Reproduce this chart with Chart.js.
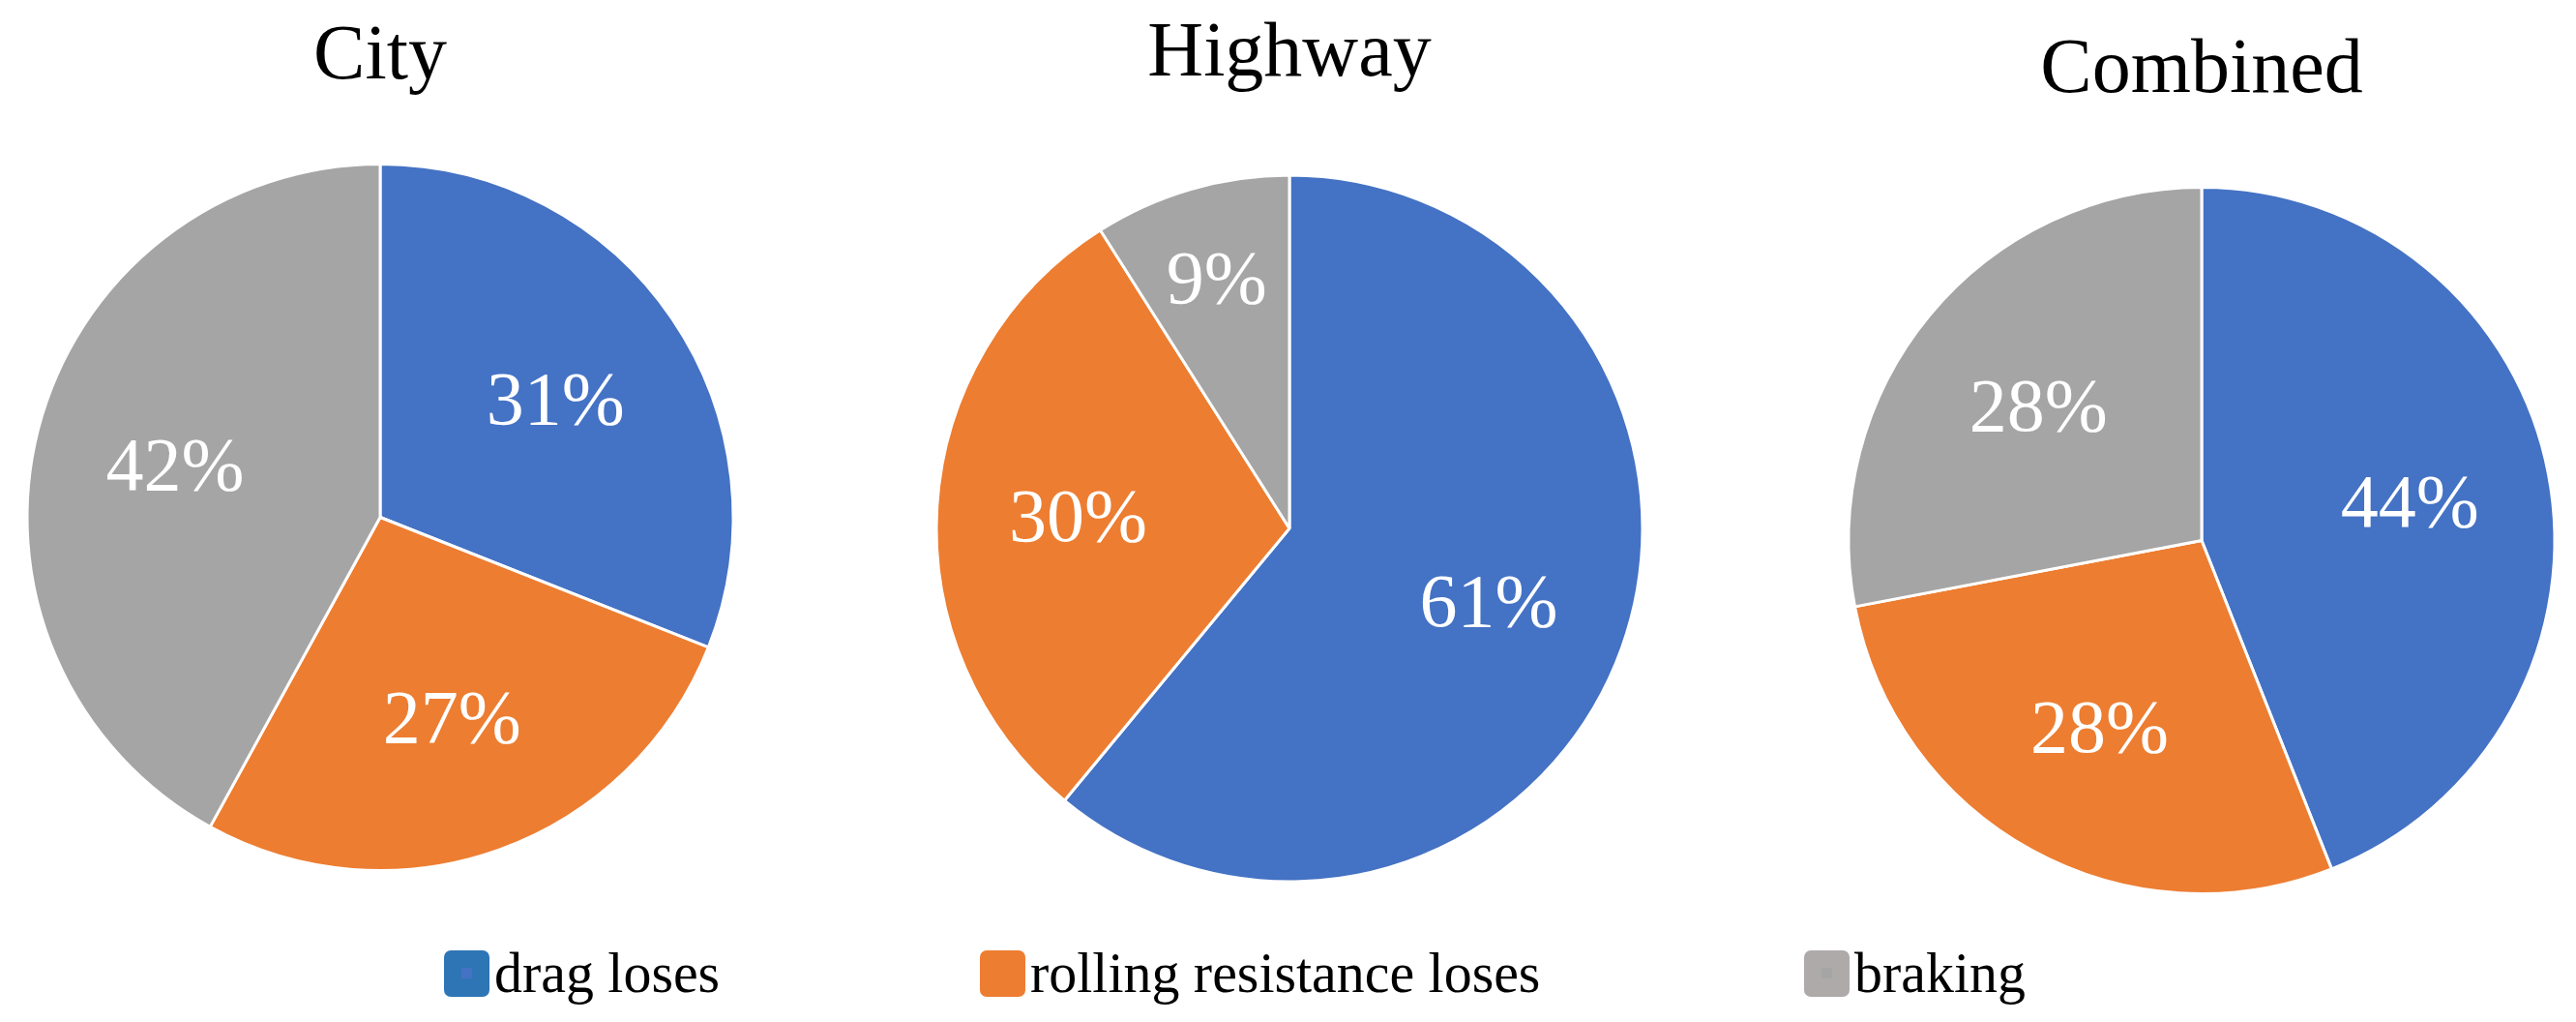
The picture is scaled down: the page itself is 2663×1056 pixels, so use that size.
<!DOCTYPE html>
<html>
<head>
<meta charset="utf-8">
<title>Energy losses</title>
<script src="https://cdn.jsdelivr.net/npm/chart.js@4.4.0/dist/chart.umd.min.js"></script>
<style>
    html, body { margin: 0; padding: 0; background: #fff; }
    body {
        width: 2663px;
        height: 1056px;
        position: relative;
        overflow: hidden;
        font-family: "Liberation Serif", "Times New Roman", "DejaVu Serif", serif;
    }
    canvas { position: absolute; top: 0; }
    .legend-box { position: absolute; top: 982px; height: 48px; border-radius: 7px; }
    .legend-box span { position: absolute; left: 18px; top: 18px; width: 11px; height: 11px; }
    .legend-text {
        position: absolute;
        top: 975px;
        font-size: 60px;
        line-height: 60px;
        white-space: nowrap;
        color: #000;
        transform-origin: 0 0;
    }
</style>
</head>
<body>
<canvas id="cityChart" width="786" height="1056"></canvas>
<canvas id="highwayChart" width="786" height="1056"></canvas>
<canvas id="combinedChart" width="760" height="1056"></canvas>
<div id="legend"></div>

<script>
// ---------- Data ----------
const categories = ['drag loses', 'rolling resistance loses', 'braking'];
const chartTitles = ['City', 'Highway', 'Combined'];
const cityValues = [31, 27, 42];
const highwayValues = [61, 30, 9];
const combinedValues = [44, 28, 28];

const sliceColors = ['#4472C4', '#ED7D31', '#A5A5A5'];
const legendColors = ['#2E75B6', '#ED7D31', '#AEAAAA'];

const serif = '"Liberation Serif", "Times New Roman", "DejaVu Serif", serif';

// ---------- Percentage labels inside slices ----------
const pctLabels = {
    id: 'pctLabels',
    afterDatasetsDraw(chart) {
        const ctx = chart.ctx;
        const meta = chart.getDatasetMeta(0);
        const data = chart.data.datasets[0].data;
        const total = data.reduce((a, b) => a + b, 0);
        const size = 78;

        ctx.save();
        ctx.fillStyle = '#fff';
        ctx.font = size + 'px ' + serif;
        ctx.textAlign = 'center';
        ctx.textBaseline = 'alphabetic';
        meta.data.forEach((arc, i) => {
            const p = arc.getProps(['x', 'y', 'startAngle', 'endAngle', 'outerRadius'], true);
            const mid = (p.startAngle + p.endAngle) / 2;
            const share = data[i] / total;
            // thin slices get their label pushed further out, like Excel does
            const r = p.outerRadius * (share < 0.15 ? 0.74 : 0.6);
            const x = p.x + Math.cos(mid) * r;
            const y = p.y + Math.sin(mid) * r;
            ctx.fillText(Math.round(share * 100) + '%', x, y + size * 0.338);
        });
        ctx.restore();
    }
};

// ---------- Pie charts ----------
Chart.defaults.font.family = serif;
Chart.defaults.color = '#000';

function makePie(canvasId, left, title, values, titleTop, padBottom) {
    const canvas = document.getElementById(canvasId);
    canvas.style.left = left + 'px';

    return new Chart(canvas.getContext('2d'), {
        type: 'pie',
        data: {
            labels: categories,
            datasets: [{
                data: values,
                backgroundColor: sliceColors,
                borderColor: '#fff',
                borderWidth: 3
            }]
        },
        options: {
            responsive: false,
            animation: false,
            devicePixelRatio: 1,
            radius: 365,
            layout: { padding: { top: 0, bottom: padBottom, left: 0, right: 0 } },
            plugins: {
                legend: { display: false },
                tooltip: { enabled: false },
                title: {
                    display: true,
                    text: title,
                    color: '#000',
                    font: { size: 80, weight: 'normal' },
                    padding: { top: titleTop, bottom: 0 }
                }
            }
        },
        plugins: [pctLabels]
    });
}

makePie('cityChart', 0, chartTitles[0], cityValues, 12, 95);
makePie('highwayChart', 940, chartTitles[1], highwayValues, 9, 69);
makePie('combinedChart', 1896, chartTitles[2], combinedValues, 26, 61);

// ---------- Shared legend ----------
const legendBoxLeft = [459, 1013, 1865];
const legendBoxWidth = 47;
const legendTextScale = 0.965;

const legend = document.getElementById('legend');
categories.forEach((name, i) => {
    const box = document.createElement('div');
    box.className = 'legend-box';
    box.style.left = legendBoxLeft[i] + 'px';
    box.style.width = legendBoxWidth + 'px';
    box.style.background = legendColors[i];
    box.innerHTML = `<span style="background:${sliceColors[i]}"></span>`;
    legend.appendChild(box);

    const text = document.createElement('div');
    text.className = 'legend-text';
    text.style.left = (legendBoxLeft[i] + legendBoxWidth + 5) + 'px';
    text.style.transform = `scaleX(${legendTextScale})`;
    text.textContent = name;
    legend.appendChild(text);
});
</script>
</body>
</html>
